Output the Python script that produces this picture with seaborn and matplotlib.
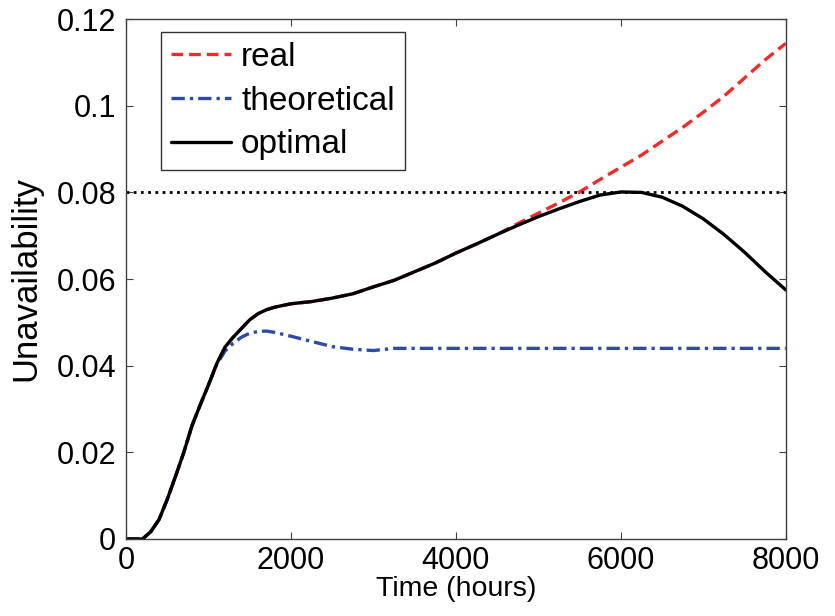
import numpy as np
import pandas as pd
import seaborn as sns
import matplotlib.pyplot as plt

# time grid (hours)
hours = [0, 200, 300, 400, 500, 600, 700, 800, 900, 1000, 1100, 1200, 1300, 1400,
         1500, 1600, 1700, 1800, 2000, 2250, 2500, 2750, 3000, 3250, 3500, 3750,
         4000, 4250, 4500, 4750, 5000, 5250, 5500, 5750, 6000, 6250, 6500, 6750,
         7000, 7250, 7500, 7750, 8000]

optimal = [0, 0, 0.0017, 0.0045, 0.0092, 0.0145, 0.0200, 0.0262, 0.0310, 0.0356,
           0.0405, 0.0443, 0.0466, 0.0486, 0.0506, 0.0520, 0.0529, 0.0535, 0.0543,
           0.0548, 0.0556, 0.0566, 0.0582, 0.0597, 0.0617, 0.0637, 0.0660, 0.0681,
           0.0703, 0.0724, 0.0744, 0.0762, 0.0779, 0.0794, 0.0801, 0.0800, 0.0789,
           0.0768, 0.0739, 0.0703, 0.0662, 0.0617, 0.0575]

real = [0, 0, 0.0017, 0.0045, 0.0092, 0.0145, 0.0200, 0.0262, 0.0310, 0.0356,
        0.0405, 0.0443, 0.0466, 0.0486, 0.0506, 0.0520, 0.0529, 0.0535, 0.0543,
        0.0548, 0.0556, 0.0566, 0.0582, 0.0597, 0.0617, 0.0637, 0.0660, 0.0681,
        0.0703, 0.0728, 0.0752, 0.0776, 0.0801, 0.0830, 0.0858, 0.0886, 0.0918,
        0.0950, 0.0985, 0.1022, 0.1064, 0.1106, 0.1144]

theoretical = [0, 0, 0.0017, 0.0045, 0.0092, 0.0145, 0.0200, 0.0262, 0.0310, 0.0356,
               0.0403, 0.0434, 0.0452, 0.0466, 0.0475, 0.0479, 0.0480, 0.0477, 0.0468,
               0.0456, 0.0444, 0.0438, 0.0435, 0.0440, 0.0440, 0.0440, 0.0440, 0.0440,
               0.0440, 0.0440, 0.0440, 0.0440, 0.0440, 0.0440, 0.0440, 0.0440, 0.0440,
               0.0440, 0.0440, 0.0440, 0.0440, 0.0440, 0.0440]

threshold = 0.08

df = pd.DataFrame({'hours': hours, 'real': real, 'theoretical': theoretical, 'optimal': optimal})

sns.set_style('ticks')
plt.rcParams['font.family'] = ['Liberation Sans', 'DejaVu Sans']
plt.rcParams['text.color'] = 'black'
plt.rcParams['axes.labelcolor'] = 'black'

fig, ax = plt.subplots(figsize=(8.35, 6.16), dpi=100)
fig.subplots_adjust(left=0.151, right=0.941, bottom=0.125, top=0.969)

sns.lineplot(data=df, x='hours', y='real', ax=ax, color='#f42a2a', lw=2.4,
             linestyle=(0, (3.5, 1.8)), label='real')
sns.lineplot(data=df, x='hours', y='theoretical', ax=ax, color='#2c4aa8', lw=2.4,
             linestyle=(0, (4, 1.5, 1, 1.5)), label='theoretical')
sns.lineplot(data=df, x='hours', y='optimal', ax=ax, color='black', lw=2.4,
             label='optimal')
ax.axhline(threshold, color='black', lw=2, linestyle=(0, (1, 1.6)))

ax.set_xlim(0, 8000)
ax.set_ylim(0, 0.12)
ax.set_xticks([0, 2000, 4000, 6000, 8000])
ax.set_yticks([0, 0.02, 0.04, 0.06, 0.08, 0.1, 0.12])
ax.set_yticklabels(['0', '0.02', '0.04', '0.06', '0.08', '0.1', '0.12'])
ax.tick_params(direction='in', length=5, width=0.8, labelsize=22, top=True, right=True,
               colors='#404040', labelcolor='black')
ax.tick_params(axis='y', pad=7)
ax.tick_params(axis='x', pad=5)
for s in ax.spines.values():
    s.set_color('#404040')
    s.set_linewidth(1)

ax.set_xlabel('Time (hours)', fontsize=20.5, labelpad=0)
ax.set_ylabel('Unavailability', fontsize=25)
ax.yaxis.set_label_coords(-0.127, 0.5)

leg = ax.legend(loc='upper left', bbox_to_anchor=(0.053, 0.975), fontsize=24,
                frameon=True, fancybox=False, edgecolor='black', handlelength=1.8,
                handletextpad=0.3, labelspacing=0.38, borderpad=0.3, borderaxespad=0)
leg.get_frame().set_linewidth(1)
for t in leg.get_texts():
    t.set_color('black')

plt.savefig('out.png', dpi=100)
plt.close()
